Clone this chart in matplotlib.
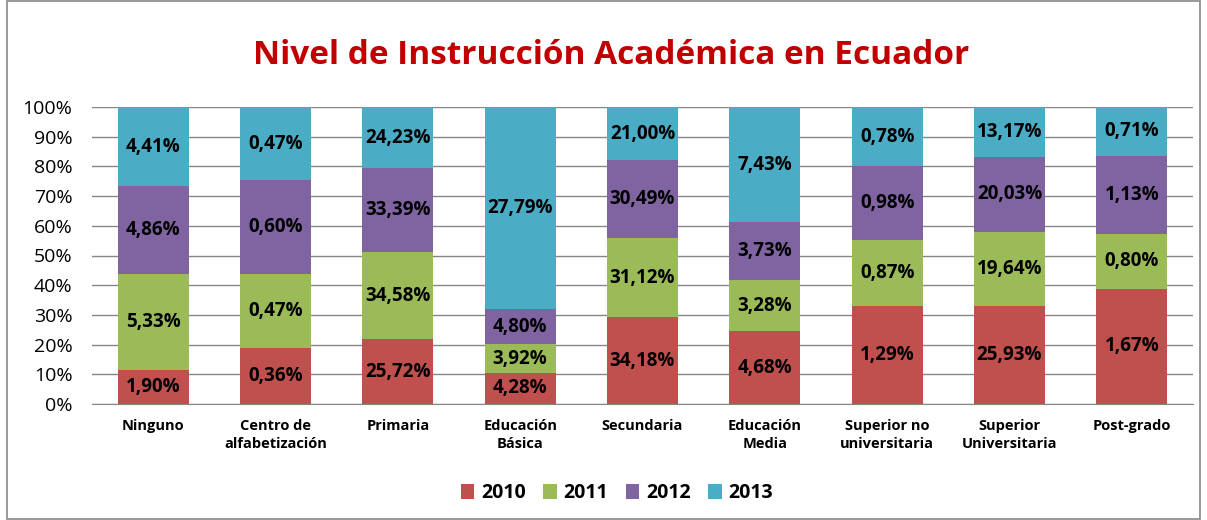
import matplotlib
matplotlib.use("Agg")
import matplotlib.pyplot as plt
import numpy as np
from matplotlib.patches import Rectangle

categories = ["Ninguno", "Centro de\nalfabetización", "Primaria", "Educación\nBásica",
              "Secundaria", "Educación\nMedia", "Superior no\nuniversitaria",
              "Superior\nUniversitaria", "Post-grado"]
years = ["2010", "2011", "2012", "2013"]
v2010 = [1.90, 0.36, 25.72, 4.28, 34.18, 4.68, 1.29, 25.93, 1.67]
v2011 = [5.33, 0.47, 34.58, 3.92, 31.12, 3.28, 0.87, 19.64, 0.80]
v2012 = [4.86, 0.60, 33.39, 4.80, 30.49, 3.73, 0.98, 20.03, 1.13]
v2013 = [4.41, 0.47, 24.23, 27.79, 21.00, 7.43, 0.78, 13.17, 0.71]
colors = ["#C0504D", "#9BBB59", "#8064A2", "#4BACC6"]

plt.rcParams['font.family'] = ['Open Sans', 'DejaVu Sans']

series = np.array([v2010, v2011, v2012, v2013])
totals = series.sum(axis=0)
pct = series / totals * 100

fig = plt.figure(figsize=(12.07, 5.2), dpi=100)
fig.patches.append(Rectangle((0.006, 0.002), 0.988, 0.996, transform=fig.transFigure,
                             fill=False, edgecolor="#888888", lw=1.2))
ax = fig.add_axes([92/1207, 1-404/520, (1193-92)/1207, (404-107)/520])

x = np.arange(len(categories))
bottom = np.zeros(len(categories))
for i, yr in enumerate(years):
    ax.bar(x, pct[i], 0.58, bottom=bottom, color=colors[i], label=yr, zorder=3)
    for j in range(len(categories)):
        yc = bottom[j] + pct[i][j] / 2
        ax.text(x[j], yc, f"{series[i][j]:.2f}%".replace(".", ","), ha="center", va="center",
                fontsize=13.5, fontweight="bold", color="black", zorder=4)
    bottom += pct[i]

ax.set_xlim(-0.5, len(categories) - 0.5)
ax.set_ylim(0, 100)
ax.set_yticks(np.arange(0, 101, 10))
ax.set_yticklabels([f"{t}%" for t in range(0, 101, 10)], fontsize=14)
ax.yaxis.grid(True, color="#868686", lw=1, zorder=0)
ax.set_xticks(x)
ax.set_xticklabels(categories, fontsize=10.5, fontweight="bold", linespacing=1.35)
for s in ["top", "right", "left"]:
    ax.spines[s].set_visible(False)
ax.spines["bottom"].set_color("#868686")
ax.tick_params(axis="both", length=0)
ax.tick_params(axis="y", pad=14)
ax.tick_params(axis="x", pad=11)

fig.text(611/1207, 1-55/520, "Nivel de Instrucción Académica en Ecuador", ha="center", va="center",
         fontsize=24, fontweight="bold", color="#C00000")

fig.legend(loc="center", bbox_to_anchor=(617/1207, 1-493/520), ncol=4, frameon=False,
           prop={"size": 14, "weight": "bold"}, handlelength=0.7, handleheight=0.8,
           columnspacing=0.9, handletextpad=0.35)

fig.savefig("out.png", dpi=100)
